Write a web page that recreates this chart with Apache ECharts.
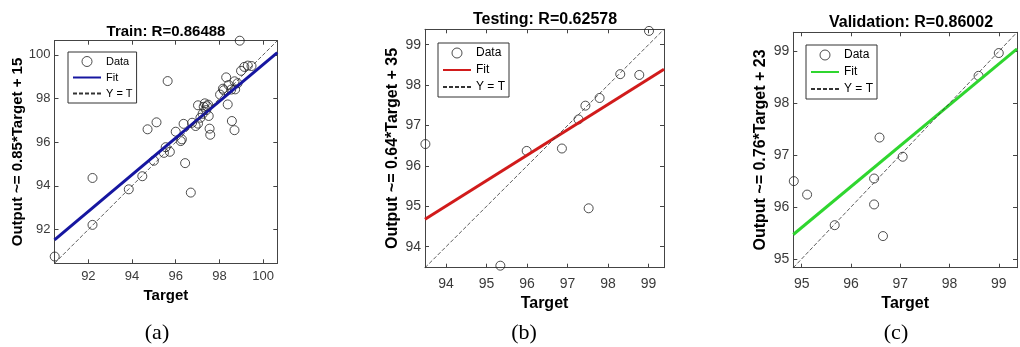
<!DOCTYPE html>
<html lang="en">
<head>
<meta charset="UTF-8">
<title>Regression plots</title>
<script src="https://cdn.jsdelivr.net/npm/echarts@6/dist/echarts.min.js"></script>
<style>
html, body { margin: 0; padding: 0; background: #fff; }
#main { width: 1020px; height: 347px; }
</style>
</head>
<body>
<div id="main"></div>
<script>
// (a) train
var trainTarget = [90.46, 92.19, 92.19, 93.85, 94.47, 94.71, 95.12, 95.00, 95.46, 95.54, 95.73, 95.63, 96.00, 96.23, 96.28, 96.36, 96.43, 96.69, 96.75, 96.91, 97.02, 97.02, 97.13, 97.23, 97.28, 97.33, 97.40, 97.43, 97.48, 97.51, 97.55, 97.58, 98.03, 98.16, 98.20, 98.31, 98.38, 98.42, 98.54, 98.57, 98.69, 98.69, 98.72, 98.83, 98.93, 98.99, 99.14, 99.30, 99.47];
var trainOutput = [90.76, 92.21, 94.36, 93.84, 94.44, 96.59, 96.91, 95.15, 95.51, 95.77, 95.56, 98.80, 96.48, 96.05, 96.13, 96.84, 95.04, 93.69, 96.89, 96.74, 96.85, 97.69, 97.12, 97.30, 97.62, 97.78, 97.47, 97.65, 97.72, 97.20, 96.62, 96.34, 98.18, 98.45, 98.38, 98.97, 97.73, 98.62, 98.41, 96.97, 96.55, 98.79, 98.42, 98.70, 100.65, 99.27, 99.45, 99.51, 99.49];
var trainFitX = [90.45, 100.65];
var trainFitY = [91.52, 100.10];
var trainRange = [90.45, 100.65];

// (b) testing
var testTarget = [93.49, 95.34, 95.99, 96.86, 97.27, 97.44, 97.52, 97.79, 98.30, 98.77, 99.01];
var testOutput = [96.54, 93.53, 96.37, 96.43, 97.15, 97.49, 94.95, 97.68, 98.27, 98.25, 99.34];
var testFitX = [93.48, 99.38];
var testFitY = [94.68, 98.39];
var testRange = [93.48, 99.38];

// (c) validation
var valTarget = [94.84, 95.11, 95.67, 96.47, 96.47, 96.58, 96.65, 97.05, 98.59, 99.00];
var valOutput = [96.50, 96.24, 95.65, 96.55, 96.05, 97.34, 95.44, 96.97, 98.53, 98.97];
var valFitX = [94.83, 99.37];
var valFitY = [95.47, 99.05];
var valRange = [94.83, 99.37];

var panels = [
    { key: 'a', title: 'Train: R=0.86488', yName: 'Output ~= 0.85*Target + 15', color: '#1616a0',
      t: trainTarget, o: trainOutput, fx: trainFitX, fy: trainFitY, range: trainRange, step: 2,
      grid: { left: 54.5, top: 40.7, width: 222.8, height: 222.6 },
      titleX: 166, titleY: 32, titleSize: 15, nameSize: 15, yGap: 29, xGap: 24,
      tickSize: 13, tickMargin: 7, legendPos: { left: 68, top: 52 }, legendSize: 11,
      tag: '(a)', tagX: 157 },
    { key: 'b', title: 'Testing: R=0.62578', yName: 'Output ~= 0.64*Target + 35', color: '#d11b1b',
      t: testTarget, o: testOutput, fx: testFitX, fy: testFitY, range: testRange, step: 1,
      grid: { left: 425, top: 29.3, width: 239, height: 238.4 },
      titleX: 545, titleY: 20, titleSize: 16, nameSize: 16, yGap: 24, xGap: 26,
      tickSize: 14, tickMargin: 9, legendPos: { left: 438, top: 43 }, legendSize: 12,
      tag: '(b)', tagX: 524 },
    { key: 'c', title: 'Validation: R=0.86002', yName: 'Output ~= 0.76*Target + 23', color: '#2fd62f',
      t: valTarget, o: valOutput, fx: valFitX, fy: valFitY, range: valRange, step: 1,
      grid: { left: 793.3, top: 32.3, width: 236, height: 235.4 },
      titleX: 911, titleY: 23, titleSize: 16, nameSize: 16, yGap: 25, xGap: 27,
      tickSize: 14, tickMargin: 9, legendPos: { left: 806, top: 45 }, legendSize: 12,
      tag: '(c)', tagX: 896 }
];

var boldFont = '"Liberation Sans", Arial, sans-serif';
var tickFont = '"Liberation Sans Narrow", "Arial Narrow", "Liberation Sans", sans-serif';
var boxColor = '#444';

var grids = [], xAxes = [], yAxes = [], series = [], legends = [], texts = [];

panels.forEach(function (p, i) {
    grids.push(p.grid);
    var onStep = function (v) {
        return Math.abs(v / p.step - Math.round(v / p.step)) < 1e-6 ? String(Math.round(v)) : '';
    };
    var common = {
        gridIndex: i, type: 'value', min: p.range[0], max: p.range[1],
        minInterval: p.step, maxInterval: p.step,
        axisLine: { onZero: false, lineStyle: { color: boxColor, width: 1 } },
        axisTick: { inside: true, length: 4, lineStyle: { color: boxColor } },
        splitLine: { show: false }
    };
    xAxes.push(Object.assign({}, common, {
        position: 'bottom', name: 'Target', nameLocation: 'middle', nameGap: p.xGap,
        nameTextStyle: { fontWeight: 'bold', fontSize: p.nameSize, color: '#000', fontFamily: boldFont },
        axisLabel: { margin: p.tickMargin, fontSize: p.tickSize, color: '#3a3a3a', fontFamily: tickFont, formatter: onStep }
    }));
    xAxes.push(Object.assign({}, common, { position: 'top', axisLabel: { show: false } }));
    yAxes.push(Object.assign({}, common, {
        position: 'left', name: p.yName, nameLocation: 'middle', nameGap: p.yGap, nameRotate: 90,
        nameTextStyle: { fontWeight: 'bold', fontSize: p.nameSize, color: '#000', fontFamily: boldFont },
        axisLabel: { margin: 4, fontSize: p.tickSize, color: '#3a3a3a', fontFamily: tickFont, formatter: onStep }
    }));
    yAxes.push(Object.assign({}, common, { position: 'right', axisLabel: { show: false } }));

    var pts = p.t.map(function (t, k) { return [t, p.o[k]]; });
    var dataName = 'Data#' + p.key, fitName = 'Fit#' + p.key, ytName = 'Y = T#' + p.key;
    series.push({
        type: 'scatter', name: dataName, xAxisIndex: 2 * i, yAxisIndex: 2 * i, data: pts,
        symbol: 'circle', symbolSize: 9, silent: true, z: 2,
        itemStyle: { color: 'rgba(255,255,255,0)', borderColor: '#222', borderWidth: 1 }
    });
    // itemStyle opacity 0 so the legend icon shows only the line, no dot
    series.push({
        type: 'line', name: fitName, xAxisIndex: 2 * i, yAxisIndex: 2 * i,
        data: [[p.fx[0], p.fy[0]], [p.fx[1], p.fy[1]]],
        symbol: 'circle', showSymbol: false, silent: true, z: 3,
        lineStyle: { color: p.color, width: 3 }, itemStyle: { color: p.color, opacity: 0 }
    });
    series.push({
        type: 'line', name: ytName, xAxisIndex: 2 * i, yAxisIndex: 2 * i,
        data: [[p.range[0], p.range[0]], [p.range[1], p.range[1]]],
        symbol: 'circle', showSymbol: false, silent: true, z: 4,
        lineStyle: { color: '#333', width: 0.8, type: [4, 2] }, itemStyle: { color: '#333', opacity: 0 }
    });
    legends.push({
        left: p.legendPos.left, top: p.legendPos.top, orient: 'vertical',
        data: [dataName, fitName, ytName],
        formatter: function (n) { return n.split('#')[0]; },
        itemWidth: 28, itemHeight: 10, itemGap: 5, padding: [4, 4, 4, 4],
        itemStyle: { borderWidth: 1 },
        borderColor: '#333', borderWidth: 1, backgroundColor: '#fff', selectedMode: false,
        textStyle: { fontSize: p.legendSize, color: '#000', fontFamily: boldFont }
    });
    texts.push({
        type: 'text', silent: true,
        style: { text: p.title, x: p.titleX, y: p.titleY, align: 'center', verticalAlign: 'middle',
                 fontSize: p.titleSize, fontWeight: 'bold', fontFamily: boldFont, fill: '#000' }
    });
    texts.push({
        type: 'text', silent: true,
        style: { text: p.tag, x: p.tagX, y: 333, align: 'center', verticalAlign: 'middle',
                 fontSize: 22, fontFamily: '"Liberation Serif", "Times New Roman", serif', fill: '#000' }
    });
});

var chart = echarts.init(document.getElementById('main'));
chart.setOption({
    animation: false,
    grid: grids,
    xAxis: xAxes,
    yAxis: yAxes,
    legend: legends,
    series: series,
    graphic: texts
});
</script>
</body>
</html>
